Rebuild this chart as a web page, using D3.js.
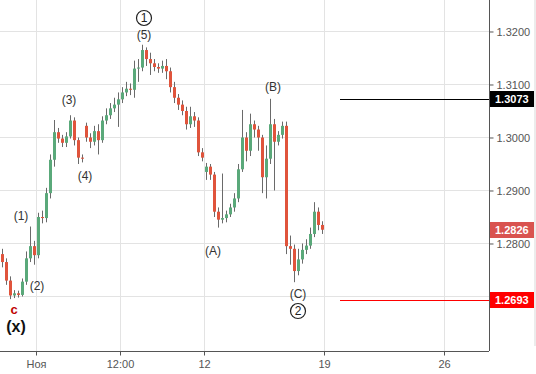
<!DOCTYPE html>
<html>
<head>
<meta charset="utf-8">
<script src="https://cdn.jsdelivr.net/npm/d3@7"></script>
<style>
  body { margin: 0; background: #fff; }
  svg { display: block; font-family: "Liberation Sans", Arial, sans-serif; }
</style>
</head>
<body>
<svg id="chart" width="536" height="374"></svg>
<script>
// 4-hour candles, GBP/USD, trading time only (weekends skipped)
const opens = [1.2780,1.2765,1.2730,1.2702,1.2706,1.2703,1.2728,1.2772,1.2795,1.2778,
  1.2850,1.2848,1.2895,1.2958,1.3010,1.2998,1.2990,1.3002,1.3032,1.2995,
  1.2962,1.3022,1.3000,1.2992,1.3012,1.2995,1.3032,1.3042,1.3055,1.3062,
  1.3072,1.3085,1.3092,1.3090,1.3130,1.3132,1.3165,1.3148,1.3140,1.3133,
  1.3130,1.3135,1.3125,1.3095,1.3075,1.3062,1.3050,1.3025,1.3040,1.3032,
  1.2972,1.2935,1.2945,1.2930,1.2860,1.2845,1.2848,1.2855,1.2868,1.2885,
  1.2940,1.3000,1.2975,1.3025,1.3015,1.3000,1.2925,1.2960,1.3025,1.2992,
  1.3005,1.3022,1.2795,1.2790,1.2748,1.2770,1.2788,1.2796,1.2818,1.2860,1.2835];
const highs = [1.2790,1.2772,1.2738,1.2712,1.2711,1.2734,1.2785,1.2832,1.2805,1.2858,
  1.2862,1.2905,1.2968,1.3033,1.3018,1.3005,1.3010,1.3042,1.3038,1.3000,
  1.2968,1.3028,1.3008,1.3022,1.3025,1.3040,1.3055,1.3065,1.3075,1.3085,
  1.3095,1.3105,1.3102,1.3145,1.3148,1.3175,1.3170,1.3160,1.3148,1.3140,
  1.3145,1.3148,1.3132,1.3105,1.3082,1.3070,1.3058,1.3058,1.3048,1.3038,
  1.2980,1.2952,1.2950,1.2935,1.2868,1.2932,1.2862,1.2875,1.2895,1.2950,
  1.3052,1.3010,1.3045,1.3032,1.3022,1.3005,1.2985,1.3073,1.3035,1.3012,
  1.3030,1.3030,1.2815,1.2798,1.2790,1.2800,1.2808,1.2830,1.2878,1.2868,1.2842];
const lows = [1.2755,1.2722,1.2695,1.2697,1.2698,1.2700,1.2722,1.2765,1.2760,1.2772,
  1.2838,1.2840,1.2885,1.2945,1.2990,1.2982,1.2982,1.2998,1.2985,1.2950,
  1.2953,1.2992,1.2980,1.2985,1.2968,1.2990,1.3025,1.3035,1.3048,1.3020,
  1.3065,1.3078,1.3080,1.3075,1.3105,1.3125,1.3135,1.3118,1.3125,1.3122,
  1.3122,1.3110,1.3085,1.3065,1.3052,1.3042,1.3015,1.3018,1.3020,1.2965,
  1.2955,1.2920,1.2920,1.2850,1.2830,1.2838,1.2840,1.2850,1.2860,1.2878,
  1.2935,1.2955,1.2965,1.3000,1.2975,1.2895,1.2885,1.2950,1.2900,1.2985,
  1.2998,1.2780,1.2760,1.2727,1.2740,1.2762,1.2780,1.2790,1.2812,1.2825,1.2818];
const closes = [1.2765,1.2730,1.2702,1.2706,1.2703,1.2728,1.2772,1.2795,1.2778,1.2850,
  1.2848,1.2895,1.2958,1.3010,1.2998,1.2990,1.3002,1.3032,1.2995,1.2962,
  1.2960,1.3000,1.2992,1.3012,1.2995,1.3032,1.3042,1.3055,1.3062,1.3072,
  1.3085,1.3092,1.3090,1.3130,1.3132,1.3165,1.3148,1.3140,1.3133,1.3130,
  1.3135,1.3125,1.3095,1.3075,1.3062,1.3050,1.3025,1.3040,1.3032,1.2972,
  1.2962,1.2945,1.2930,1.2860,1.2845,1.2848,1.2855,1.2868,1.2885,1.2940,
  1.3000,1.2975,1.3025,1.3015,1.3000,1.2925,1.2960,1.3025,1.2992,1.3005,
  1.3022,1.2795,1.2790,1.2748,1.2770,1.2788,1.2796,1.2818,1.2860,1.2835,1.2826];

// x ticks: trading days counted from 1 Nov
const xTickDays = [0, 3.5, 7, 12, 17];
const xTickLabels = ['Ноя', '12:00', '12', '19', '26'];
const yGrid = [1.27, 1.28, 1.29, 1.30, 1.31, 1.32];
// 1.2700 label sits under the red price tag, so only these are labelled
const yTicks = [1.28, 1.29, 1.30, 1.31, 1.32];

// price markers on the right scale
const lastPrice = 1.2826;
const levelB = 1.3073;
const levelC = 1.2693;

// wave labels: candle index, price, text
const waveIdx = [4.75, 8.75, 16.75, 20.75, 35.5, 52.75, 67.75, 74];
const wavePrice = [1.28519, 1.27198, 1.30708, 1.29274, 1.31934, 1.27858, 1.30953, 1.27047];
const waveText = ['(1)', '(2)', '(3)', '(4)', '(5)', '(A)', '(B)', '(C)'];
const circleIdx = [35.5, 74];
const circlePrice = [1.32255, 1.26726];
const circleText = ['1', '2'];

const W = 536, H = 374;
const plotR = 489, plotB = 351;
const svg = d3.select('#chart');

// day -> px (24 px per trading day), candle index -> day
const x = d3.scaleLinear().domain([-1.5, 18.875]).range([0, plotR]);
const candleDay = i => -1.5 + i / 6 + 1 / 12;
const y = d3.scaleLinear().domain([1.259717, 1.325943]).range([plotB, 0]);

// grid
svg.append('g').selectAll('line.h').data(yGrid).join('line')
  .attr('x1', 0).attr('x2', plotR)
  .attr('y1', d => Math.round(y(d)) + 0.5).attr('y2', d => Math.round(y(d)) + 0.5)
  .attr('stroke', '#e3e3e3');
svg.append('g').selectAll('line.v').data(xTickDays).join('line')
  .attr('y1', 0).attr('y2', plotB)
  .attr('x1', d => Math.round(x(d)) + 0.5).attr('x2', d => Math.round(x(d)) + 0.5)
  .attr('stroke', '#e3e3e3');

// candles
const idx = d3.range(closes.length);
const up = i => closes[i] >= opens[i];
const cg = svg.append('g');
cg.selectAll('line.wick').data(idx).join('line')
  .attr('x1', i => Math.round(x(candleDay(i))) + 0.5)
  .attr('x2', i => Math.round(x(candleDay(i))) + 0.5)
  .attr('y1', i => y(highs[i])).attr('y2', i => y(lows[i]))
  .attr('stroke', '#6a6a6a').attr('stroke-width', 1);
cg.selectAll('rect.body').data(idx).join('rect')
  .attr('x', i => Math.round(x(candleDay(i))) - 1)
  .attr('width', 3)
  .attr('y', i => y(Math.max(opens[i], closes[i])))
  .attr('height', i => Math.max(1, Math.abs(y(opens[i]) - y(closes[i]))))
  .attr('fill', i => up(i) ? '#5aa97a' : '#e0543c');

// level lines
svg.append('line').attr('x1', 340).attr('x2', plotR)
  .attr('y1', Math.round(y(levelB)) + 0.5).attr('y2', Math.round(y(levelB)) + 0.5)
  .attr('stroke', '#000');
svg.append('line').attr('x1', 340).attr('x2', plotR)
  .attr('y1', Math.round(y(levelC)) + 0.5).attr('y2', Math.round(y(levelC)) + 0.5)
  .attr('stroke', '#ff0000');

// wave labels
svg.append('g').selectAll('text').data(waveText).join('text')
  .attr('x', (d, i) => x(candleDay(waveIdx[i])))
  .attr('y', (d, i) => y(wavePrice[i]))
  .attr('dy', '0.35em').attr('text-anchor', 'middle')
  .attr('font-size', 12).attr('fill', '#333')
  .text(d => d);
const circ = svg.append('g').selectAll('g').data(circleText).join('g')
  .attr('transform', (d, i) => `translate(${x(candleDay(circleIdx[i]))},${y(circlePrice[i])})`);
circ.append('circle').attr('r', 7.5).attr('fill', 'none').attr('stroke', '#222').attr('stroke-width', 1.2);
circ.append('text').attr('dy', '0.36em').attr('text-anchor', 'middle')
  .attr('font-size', 12).attr('fill', '#222').text(d => d);

svg.append('text').attr('x', x(candleDay(3))).attr('y', y(1.26764)).attr('dy', '0.35em')
  .attr('text-anchor', 'middle').attr('font-size', 13).attr('font-weight', 'bold')
  .attr('fill', '#c00000').text('c');
svg.append('text').attr('x', x(candleDay(3.5))).attr('y', y(1.26443)).attr('dy', '0.35em')
  .attr('text-anchor', 'middle').attr('font-size', 16).attr('font-weight', 'bold')
  .attr('fill', '#111').text('(x)');

// axes
const yAxis = d3.axisRight(y).tickValues(yTicks).tickFormat(d3.format('.4f')).tickSize(4).tickPadding(3);
const yg = svg.append('g').attr('transform', `translate(${plotR + 0.5},0)`).call(yAxis);
const xAxis = d3.axisBottom(x).tickValues(xTickDays).tickFormat((d, i) => xTickLabels[i]).tickSize(4).tickPadding(5);
const xg = svg.append('g').attr('transform', `translate(0,${plotB + 0.5})`).call(xAxis);
[yg, xg].forEach(g => {
  g.select('.domain').attr('stroke', '#555');
  g.selectAll('.tick line').attr('stroke', '#555');
  g.selectAll('.tick text').attr('fill', '#555').attr('font-size', 11)
    .attr('font-family', '"Liberation Sans", Arial, sans-serif');
});
yg.select('.domain').attr('d', `M0,0V${plotB}`);
xg.select('.domain').attr('d', `M0,0H${plotR}`);

// price tags
const tags = [
  { v: levelB, bg: '#000000' },
  { v: lastPrice, bg: '#d9534f' },
  { v: levelC, bg: '#ff0000' }
];
const tg = svg.append('g').selectAll('g').data(tags).join('g')
  .attr('transform', d => `translate(${plotR + 1},${Math.round(y(d.v))})`);
tg.append('rect').attr('x', 0).attr('y', -8).attr('width', 45).attr('height', 16).attr('fill', d => d.bg);
tg.append('text').attr('x', 5).attr('dy', '0.35em').attr('font-size', 11).attr('font-weight', 'bold')
  .attr('fill', '#fff').text(d => d.v.toFixed(4));

// scrollbar strip at right edge
svg.append('rect').attr('x', 534).attr('y', 0).attr('width', 2).attr('height', plotB - 5).attr('fill', '#ececec');
</script>
</body>
</html>
